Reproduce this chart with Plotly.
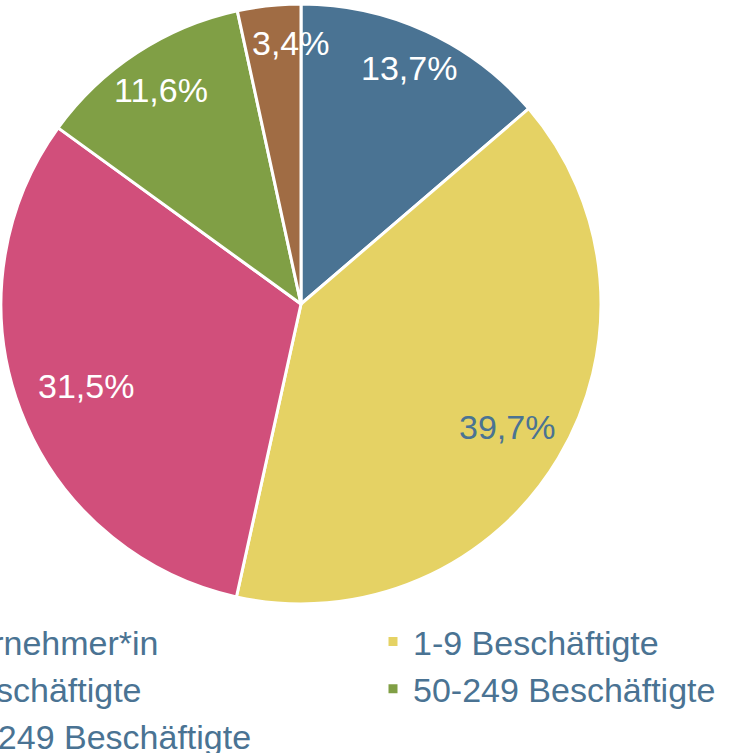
import numpy as np
import plotly.graph_objects as go

# ---- data ----
categories = ["Solounternehmer*in", "1-9 Beschäftigte", "10-49 Beschäftigte",
              "50-249 Beschäftigte", "mehr als 249 Beschäftigte"]
values = [13.7, 39.7, 31.5, 11.6, 3.4]
value_labels = ["13,7%", "39,7%", "31,5%", "11,6%", "3,4%"]

# ---- style ----
colors = ["#4a7393", "#e5d264", "#d14f7b", "#809f45", "#a06c44"]
label_colors = ["#ffffff", "#4a7393", "#ffffff", "#ffffff", "#ffffff"]
label_radius = [0.866, 0.80, 0.766, 0.853, 0.87]
label_angle_nudge = [0, 0, 0, 0, 4]
text_blue = "#4a7393"
FONT = "Helvetica Neue, Helvetica, Arial, Liberation Sans, sans-serif"

FIG_W, FIG_H = 1300, 753
PLOT_H = 613
CX, CY, R = 301, 304, 300
LEG_X = -182
ENTRY_W = 510

fig = go.Figure()
fig.add_trace(go.Pie(
    labels=categories, values=values, sort=False, direction="clockwise",
    rotation=0, textinfo="none", hoverinfo="skip",
    marker=dict(colors=colors, line=dict(color="white", width=3)),
    domain=dict(x=[(CX - R) / FIG_W, (CX + R) / FIG_W],
                y=[1 - (CY + R) / PLOT_H, 1 - (CY - R) / PLOT_H]),
))

vals = np.array(values, dtype=float)
frac = vals / vals.sum()
mids = (np.cumsum(frac) - frac / 2) * 360 + np.array(label_angle_nudge)
for lab, m, rr, col in zip(value_labels, mids, label_radius, label_colors):
    th = np.deg2rad(m)
    px = CX + rr * R * np.sin(th)
    py = CY - rr * R * np.cos(th)
    fig.add_annotation(x=px / FIG_W, y=1 - py / PLOT_H, xref="paper", yref="paper",
                       text=lab, showarrow=False, xanchor="center", yanchor="middle",
                       font=dict(family=FONT, size=34, color=col))

fig.update_layout(
    width=FIG_W, height=FIG_H,
    margin=dict(l=0, r=0, t=0, b=FIG_H - PLOT_H, pad=0, autoexpand=False),
    paper_bgcolor="white", plot_bgcolor="white",
    showlegend=True,
    legend=dict(orientation="h", x=LEG_X / FIG_W, xanchor="left", y=0, yanchor="top",
                entrywidth=ENTRY_W, entrywidthmode="pixels",
                font=dict(family=FONT, size=34, color=text_blue),
                bgcolor="rgba(0,0,0,0)", borderwidth=0, traceorder="normal"),
)

fig.write_html("out.html", post_script="document.body.style.margin='0px';")
